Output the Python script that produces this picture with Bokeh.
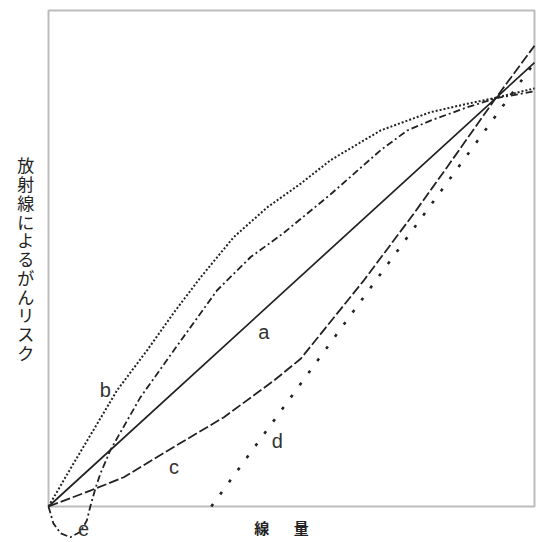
from bokeh.plotting import figure
from bokeh.models import Range1d, BoxAnnotation
from bokeh.core.properties import value
from bokeh.embed import file_html
from bokeh.resources import INLINE

# ---- data (dose and risk in frame units 0..1) ----
a_x = [0.0, 0.920, 1.000]
a_y = [0.0, 0.823, 0.895]

b_x = [0.0, 0.045, 0.141, 0.203, 0.258, 0.313, 0.381, 0.450, 0.519, 0.580,
       0.683, 0.786, 0.862, 0.920, 1.000]
b_y = [0.0, 0.076, 0.234, 0.315, 0.391, 0.462, 0.543, 0.603, 0.651, 0.698,
       0.758, 0.795, 0.812, 0.824, 0.843]

c_x = [0.0, 0.086, 0.155, 0.258, 0.361, 0.464, 0.519, 0.649, 0.752, 0.820,
       0.920, 1.000]
c_y = [0.0, 0.032, 0.059, 0.120, 0.180, 0.254, 0.298, 0.456, 0.591, 0.684,
       0.823, 0.929]

d_x = [0.335, 1.000]
d_y = [0.0, 0.895]

e_x = [0.0, 0.010, 0.025, 0.045, 0.066, 0.079, 0.086, 0.097, 0.107, 0.128,
       0.189, 0.258, 0.347, 0.416, 0.482, 0.580, 0.683, 0.738, 0.786, 0.862,
       0.920, 1.000]
e_y = [0.0, -0.034, -0.054, -0.062, -0.051, -0.028, 0.0, 0.038, 0.067, 0.115,
       0.220, 0.315, 0.436, 0.503, 0.550, 0.629, 0.718, 0.758, 0.778, 0.805,
       0.823, 0.837]

curve_names = ["a", "b", "c", "d", "e"]
name_x = [0.443, 0.117, 0.258, 0.471, 0.072]
name_y = [0.351, 0.234, 0.079, 0.133, -0.046]

y_label = "放射線によるがんリスク"
x_label = ["線", "量"]
x_label_x = [0.439, 0.520]
x_label_y = [-0.043, -0.043]

INK = "#222222"

p = figure(width=537, height=542,
           x_range=Range1d(-48 / 486, 489 / 486),
           y_range=Range1d(-36 / 496, 506 / 496),
           output_backend="svg", toolbar_location=None,
           x_axis_type=None, y_axis_type=None, min_border=0)
p.outline_line_color = None
p.background_fill_color = "white"
p.border_fill_color = "white"

# frame box
p.add_layout(BoxAnnotation(left=0, right=1, bottom=0, top=1,
                           fill_alpha=0, line_color="#222222", line_width=2))

p.line(a_x, a_y, line_color=INK, line_width=1.7)
p.line(b_x, b_y, line_color=INK, line_width=2, line_dash="2 2")
p.line(c_x, c_y, line_color=INK, line_width=1.8, line_dash="10 3")
p.line(d_x, d_y, line_color=INK, line_width=2.6, line_dash="3 12")
p.line(e_x, e_y, line_color=INK, line_width=1.8, line_dash="7 3 2 3")

p.text(x=name_x, y=name_y, text=curve_names,
       text_font=value("Liberation Sans"), text_font_size="20px",
       text_color="#333333", text_align="center", text_baseline="middle")

p.text(x=[-0.047], y=[0.50], text=["\n".join(y_label)],
       text_font=value("Noto Sans CJK JP"), text_font_size="17px",
       text_line_height=0.75, text_color="#222222",
       text_align="center", text_baseline="middle")

p.text(x=x_label_x, y=x_label_y, text=x_label,
       text_font=value("Noto Sans CJK JP"), text_font_size="15px",
       text_font_style="bold", text_color=INK,
       text_align="center", text_baseline="middle")

open("out.html", "w").write(file_html(p, INLINE))
